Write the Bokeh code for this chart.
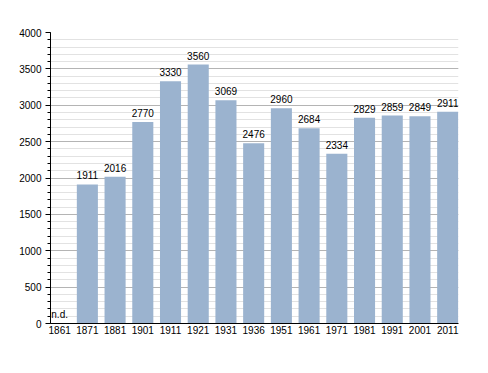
from bokeh.plotting import figure
from bokeh.models import ColumnDataSource, FixedTicker, Range1d, Label
from bokeh.embed import file_html
from bokeh.resources import INLINE
from bokeh.core.properties import value

years = ["1861", "1871", "1881", "1901", "1911", "1921", "1931", "1936",
         "1951", "1961", "1971", "1981", "1991", "2001", "2011"]
population = [None, 1911, 2016, 2770, 3330, 3560, 3069, 2476,
              2960, 2684, 2334, 2829, 2859, 2849, 2911]
missing_label = "n.d."

idx = [i for i, v in enumerate(population) if v is not None]
src = ColumnDataSource(dict(
    x=idx,
    top=[population[i] for i in idx],
    lab=[str(population[i]) for i in idx],
))

FONT = "Liberation Sans"

p = figure(frame_width=408, frame_height=291, output_backend="svg",
           toolbar_location=None,
           x_range=Range1d(-0.33, 14.39), y_range=Range1d(0, 4000),
           min_border_left=50, min_border_right=30,
           min_border_top=32, min_border_bottom=50)
p.outline_line_color = None
p.background_fill_color = "white"

p.vbar(x="x", top="top", width=0.76, source=src,
       fill_color="#9bb3cf", line_color=None)
p.text(x="x", y="top", text="lab", source=src, text_align="center",
       text_baseline="bottom", y_offset=-5, text_font=value(FONT),
       text_font_size="10px", text_color="black")
p.add_layout(Label(x=0, y=0, text=missing_label, text_align="center",
                   text_baseline="bottom", y_offset=4, text_font=FONT,
                   text_font_size="10px", text_color="black"))

# x axis
p.xaxis.ticker = FixedTicker(ticks=list(range(len(years))))
p.xaxis.major_label_overrides = {i: y for i, y in enumerate(years)}
p.xaxis.major_tick_line_color = None
p.xaxis.minor_tick_line_color = None
p.xaxis.major_tick_out = 0
p.xaxis.major_tick_in = 0
p.xaxis.major_label_standoff = 2
p.xaxis.axis_line_color = "black"
p.xgrid.grid_line_color = None

# y axis
p.yaxis.ticker = FixedTicker(ticks=list(range(0, 4001, 500)),
                             minor_ticks=list(range(0, 4001, 100)))
p.yaxis.major_tick_out = 5
p.yaxis.major_tick_in = 0
p.yaxis.minor_tick_out = 3
p.yaxis.minor_tick_in = 0
p.yaxis.axis_line_color = "black"
p.yaxis.major_label_standoff = 4
p.ygrid.grid_line_color = "#b4b4b4"
p.ygrid.minor_grid_line_color = "#e2e2e2"
p.ygrid.level = "underlay"

for ax in (p.xaxis, p.yaxis):
    ax.major_label_text_font = FONT
    ax.major_label_text_font_size = "10px"
    ax.major_label_text_color = "black"

open("out.html", "w").write(file_html(p, INLINE))
